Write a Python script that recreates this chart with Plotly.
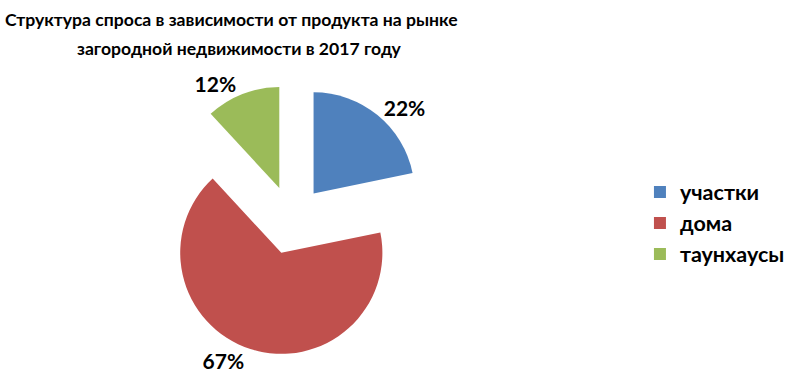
import plotly.graph_objects as go

categories = ["участки", "дома", "таунхаусы"]
shares = [22, 67, 12]
colors = ["#4F81BD", "#C0504D", "#9BBB59"]
pulls = [0.34, 0.34, 0.34]

title_lines = ["Структура спроса в зависимости от продукта на рынке",
               "загородной недвижимости в 2017 году"]

font_family = "Lato, Roboto, sans-serif"

fig = go.Figure(go.Pie(
    labels=["<b>" + c + "</b>" for c in categories],
    values=shares,
    marker=dict(colors=colors, line=dict(width=0)),
    pull=pulls,
    sort=False,
    direction="clockwise",
    rotation=0,
    texttemplate="<b>%{value}%</b>",
    textposition="outside",
    textfont=dict(family=font_family, size=21, color="#000000"),
    hoverinfo="label+value",
    domain=dict(x=[0.197, 0.539], y=[0.0545, 0.775]),
    showlegend=True,
))

title_x = [232, 239]
title_y = [19.5, 48.5]

fig.update_layout(
    width=793, height=376,
    margin=dict(l=0, r=0, t=0, b=0, autoexpand=False),
    paper_bgcolor="white",
    plot_bgcolor="white",
    font=dict(family=font_family, color="#000000"),
    annotations=[dict(
        text="<b>" + line + "</b>",
        xref="paper", yref="paper",
        x=xp / 793, xanchor="center",
        y=1 - yp / 376, yanchor="middle",
        showarrow=False,
        font=dict(family=font_family, size=17.6, color="#000000"),
    ) for line, xp, yp in zip(title_lines, title_x, title_y)],
    legend=dict(
        x=0.807, y=1 - 223 / 376, xanchor="left", yanchor="middle",
        font=dict(family=font_family, size=21.5, color="#000000"),
        itemclick=False,
        tracegroupgap=0,
    ),
)

fig.write_html("out.html")
